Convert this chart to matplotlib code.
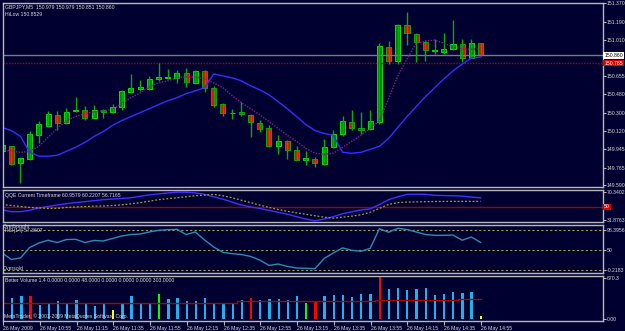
import matplotlib
matplotlib.use("Agg")
import matplotlib.pyplot as plt
import numpy as np

# GBPJPY M5, 26 May 2009, 53 bars starting 10:35
opens = [149.925, 149.975, 149.805, 149.850, 150.080, 150.175, 150.282, 150.200, 150.320, 150.330,
         150.250, 150.330, 150.305, 150.360, 150.500, 150.530, 150.530, 150.625, 150.638, 150.644,
         150.686, 150.595, 150.708, 150.541, 150.386, 150.300, 150.310, 150.280, 150.200, 150.150,
         149.979, 150.020, 149.933, 149.836, 149.853, 149.795, 149.965, 150.095, 150.210, 150.153,
         150.137, 150.207, 150.940, 150.805, 151.160, 151.074, 150.992, 150.905, 150.896, 150.918,
         150.967, 150.837, 150.979]
highs = [149.990, 149.980, 149.870, 150.120, 150.215, 150.320, 150.320, 150.345, 150.457, 150.370,
         150.380, 150.340, 150.390, 150.520, 150.676, 150.620, 150.660, 150.790, 150.725, 150.715,
         150.740, 150.718, 150.720, 150.563, 150.400, 150.337, 150.410, 150.290, 150.230, 150.183,
         150.080, 150.035, 149.980, 149.927, 149.870, 150.047, 150.127, 150.272, 150.327, 150.310,
         150.327, 150.983, 151.000, 151.170, 151.280, 151.080, 151.006, 151.025, 151.077, 151.210,
         151.025, 151.016, 150.979]
lows = [149.920, 149.790, 149.610, 149.840, 150.005, 150.160, 150.130, 150.190, 150.305, 150.225,
        150.250, 150.250, 150.295, 150.330, 150.490, 150.515, 150.525, 150.610, 150.630, 150.595,
        150.553, 150.580, 150.500, 150.360, 150.265, 150.240, 150.270, 150.063, 150.110, 149.965,
        149.900, 149.853, 149.836, 149.790, 149.770, 149.790, 149.955, 150.072, 150.127, 150.088,
        150.127, 150.190, 150.773, 150.780, 150.960, 150.800, 150.805, 150.876, 150.870, 150.915,
        150.800, 150.830, 150.851]
closes = [149.985, 149.800, 149.860, 150.090, 150.190, 150.290, 150.200, 150.310, 150.330, 150.250,
          150.330, 150.305, 150.360, 150.510, 150.540, 150.550, 150.628, 150.645, 150.653, 150.690,
          150.605, 150.708, 150.537, 150.376, 150.295, 150.300, 150.290, 150.205, 150.144, 149.972,
          150.023, 149.933, 149.840, 149.862, 149.805, 149.970, 150.095, 150.217, 150.150, 150.134,
          150.218, 150.950, 150.805, 151.160, 151.080, 150.992, 150.910, 150.912, 150.925, 150.967,
          150.830, 150.977, 150.860]

ma_slow = [150.156, 150.127, 150.069, 149.914, 149.876, 149.876, 149.885, 149.924, 149.963, 150.011,
           150.069, 150.117, 150.176, 150.224, 150.263, 150.301, 150.340, 150.379, 150.418, 150.447,
           150.486, 150.515, 150.544, 150.679, 150.660, 150.641, 150.612, 150.563, 150.524, 150.476,
           150.408, 150.340, 150.263, 150.185, 150.127, 150.098, 150.079, 149.914, 149.905, 149.914,
           149.943, 149.972, 150.050, 150.156, 150.263, 150.360, 150.457, 150.544, 150.631, 150.708,
           150.776, 150.834, 150.844]
ma_fast = [149.943, 149.924, 149.914, 149.924, 149.972, 150.059, 150.147, 150.224, 150.263, 150.292,
           150.311, 150.321, 150.331, 150.389, 150.447, 150.495, 150.553, 150.592, 150.612, 150.641,
           150.650, 150.650, 150.631, 150.592, 150.544, 150.466, 150.398, 150.340, 150.282, 150.214,
           150.147, 150.079, 150.021, 149.953, 149.905, 149.895, 149.905, 149.963, 150.021, 150.079,
           150.147, 150.224, 150.437, 150.660, 150.825, 150.980, 150.999, 151.009, 150.980, 150.941,
           150.922, 150.922, 150.922]

bid_price = 150.860
hilow_price = 150.785

qqe_main = [46.4, 44.3, 44.3, 45.9, 48.8, 50.5, 52.3, 54.0, 55.2, 56.4,
            57.5, 58.7, 59.5, 60.2, 61.0, 62.8, 64.5, 65.7, 66.8, 67.7,
            67.7, 66.8, 65.1, 62.2, 59.3, 55.8, 52.3, 49.9, 48.2, 45.9,
            43.5, 41.2, 38.3, 35.4, 33.4, 35.4, 38.3, 41.8, 44.1, 46.4,
            47.6, 52.9, 58.7, 62.2, 65.1, 65.3, 65.1, 63.9, 63.7, 63.4,
            63.0, 61.8, 60.96]
qqe_trail = [52.9, 51.7, 50.5, 49.4, 48.8, 48.2, 48.2, 49.4, 49.9, 50.5,
             50.9, 51.1, 51.7, 52.5, 53.7, 55.2, 56.9, 58.7, 59.9, 61.0,
             62.2, 63.4, 64.2, 65.1, 63.4, 61.0, 58.1, 55.2, 52.3, 49.4,
             47.0, 44.7, 42.9, 41.2, 39.4, 37.7, 36.5, 37.7, 38.9, 40.6,
             43.5, 48.2, 52.9, 55.2, 55.8, 56.0, 56.3, 56.5, 56.6, 56.7,
             56.7, 56.7, 56.72]

rsi = [47.1, 40.7, 42.2, 52.4, 56.8, 59.5, 57.3, 60.2, 60.4, 57.3,
       59.3, 58.8, 61.2, 63.7, 65.1, 65.6, 67.6, 69.2, 69.8, 70.2,
       65.1, 67.6, 59.8, 52.9, 47.6, 46.4, 45.6, 43.7, 40.2, 34.9,
       36.3, 33.9, 32.4, 32.1, 31.7, 41.7, 47.1, 52.0, 49.7, 48.7,
       51.5, 70.8, 67.3, 71.2, 70.0, 67.6, 65.1, 64.3, 64.3, 64.6,
       59.5, 62.7, 57.36]

volume = [300, 344, 371, 371, 234, 240, 288, 240, 303, 250,
          213, 240, 145, 250, 371, 240, 265, 398, 319, 344,
          288, 288, 340, 265, 265, 265, 303, 344, 308, 329,
          329, 303, 371, 265, 288, 371, 382, 382, 356, 398,
          408, 670, 477, 502, 461, 487, 502, 392, 408, 435,
          419, 435, 48]
vol_kind = "cccrccccccccyccccgcccccccccrcccccgrccccccrccccccccccy"
vol_avg = [258, 258, 258, 258, 258, 258, 258, 258, 258, 258,
           258, 258, 258, 258, 258, 265, 265, 265, 265, 265,
           265, 265, 265, 265, 265, 265, 285, 285, 285, 285,
           285, 285, 285, 285, 285, 285, 285, 285, 285, 285,
           285, 303, 303, 303, 303, 303, 303, 303, 303, 303,
           320, 320, 320]

price_ticks = [151.370, 151.190, 151.010, 150.655, 150.480, 150.300, 150.120, 149.945, 149.765, 149.590]
time_labels = ["26 May 2009", "26 May 10:55", "26 May 11:15", "26 May 11:35", "26 May 11:55",
               "26 May 12:15", "26 May 12:35", "26 May 12:55", "26 May 13:15", "26 May 13:35",
               "26 May 13:55", "26 May 14:15", "26 May 14:35", "26 May 14:55"]

BG = "#000030"
FRAME = "#b8b8b8"
TXT = "#d8d8d8"
FS = 3.7
W, H = 625, 331

plt.rcParams["font.family"] = ["Liberation Sans", "DejaVu Sans"]

fig = plt.figure(figsize=(W / 100, H / 100), dpi=100, facecolor=BG)


def panel(top, bottom):
    ax = fig.add_axes([3 / W, 1 - bottom / H, 600 / W, (bottom - top) / H], facecolor=BG)
    for s in ax.spines.values():
        s.set_color(FRAME)
        s.set_linewidth(1.0)
    ax.set_xlim(0.1, 65.3)
    ax.yaxis.tick_right()
    ax.tick_params(axis="y", colors=FRAME, labelcolor=TXT, labelsize=FS, length=2, pad=0.5)
    ax.tick_params(axis="x", bottom=False, labelbottom=False)
    return ax


def label(x, y, s, **kw):
    fig.text(x / W, 1 - y / H, s, color=TXT, fontsize=FS, va="center", ha="left", **kw)


x = np.arange(len(opens))

# ---------- main price panel ----------
ax = panel(3, 187)
ax.set_ylim(149.575, 151.372)
ax.set_yticks(price_ticks)
ax.set_yticklabels(["%.3f" % p for p in price_ticks])

ax.axhline(bid_price, color="#7a7a7a", lw=1.0)
ax.axhline(hilow_price, color="#b00000", lw=1.0, ls=(0, (1, 1)))

o = np.array(opens); c = np.array(closes)
up = c >= o
ax.vlines(x, lows, highs, color="#00b000", lw=1.0)
body = np.maximum(np.abs(c - o), 0.0015)
ax.bar(x[up], body[up], bottom=o[up], width=0.55, color="#008a00", edgecolor="#00ff00", lw=0.6)
ax.bar(x[~up], body[~up], bottom=c[~up], width=0.55, color="#ff0000", edgecolor="#00c000", lw=0.6)

ax.plot(x, ma_slow, color="#3a2cff", lw=1.0)
ax.plot(x, ma_fast, color="#8a1a8a", lw=1.0, ls=(0, (1, 1)))

ax.text(1.002, bid_price, "%.3f" % bid_price, transform=ax.get_yaxis_transform(), fontsize=FS,
        color="black", va="center", ha="left",
        bbox=dict(boxstyle="square,pad=0.15", fc="white", ec="none"))
ax.text(1.002, hilow_price, "%.3f" % hilow_price, transform=ax.get_yaxis_transform(), fontsize=FS,
        color="white", va="center", ha="left",
        bbox=dict(boxstyle="square,pad=0.15", fc="#e00000", ec="none"))

label(5, 7, "GBPJPY,M5  %.3f %.3f %.3f %.3f" % (opens[-1], highs[-1], lows[-1], closes[-1]))
label(5, 14, "HiLow 150.8529")

# ---------- QQE panel ----------
aq = panel(190, 222)
aq.set_ylim(31.8763, 70.3402)
aq.set_yticks([67.5, 34.6])
aq.set_yticklabels(["70.3402", "31.8763"])
aq.axhline(50, color="#a00000", lw=1.0)
aq.plot(x, qqe_main, color="#4a2cff", lw=1.0)
aq.plot(x, qqe_trail, color="#a0a040", lw=0.9, ls=(0, (1.5, 1.5)))
aq.text(1.002, 50, "50", transform=aq.get_yaxis_transform(), fontsize=FS, color="white",
        va="center", ha="left", bbox=dict(boxstyle="square,pad=0.15", fc="#e00000", ec="none"))
label(5, 195, "QQE Current Timeframe 60.9579 60.2207 56.7165")

# ---------- RSI panel ----------
ar = panel(225, 273)
ar.set_ylim(27.5, 74.4)
ar.set_yticks([70, 50, 30])
ar.set_yticklabels(["98.3956", "50", "-0.2183"])
for lv in (70, 50, 30):
    ar.axhline(lv, color="#a0a040", lw=0.8, ls=(0, (2, 2)))
ar.plot(x, rsi, color="#2a8cb0", lw=1.0)
label(3, 226.5, "Overbought")
label(5, 230.5, "RSI(14) 57.3607")
label(3, 268, "Oversold")

# ---------- Better Volume panel ----------
av = panel(276, 321)
av.set_ylim(-24, 687)
av.set_yticks([655, 0])
av.set_yticklabels(["670.3", "0.00"])
cmap = {"c": "#19b4f0", "r": "#ff0000", "g": "#00ff00", "y": "#ffff00"}
av.bar(x, volume, width=0.25, color=[cmap[k] for k in vol_kind])
av.plot(x, vol_avg, color="#b00000", lw=1.0, drawstyle="steps-mid")
label(5, 281, "Better Volume 1.4 0.0000 0.0000 48.0000 0.0000 0.0000 0.0000 303.0000")
label(4, 316, "MetaTrader, \u00a9 2001-2009 MetaQuotes Software Corp.")

av.set_xticks(x[::4])
av.set_xticklabels(time_labels, ha="left")
av.tick_params(axis="x", bottom=True, labelbottom=True, colors=FRAME, labelcolor=TXT,
               labelsize=FS, length=3, pad=0.5, direction="out")

fig.savefig("out.png", dpi=100, facecolor=BG)
